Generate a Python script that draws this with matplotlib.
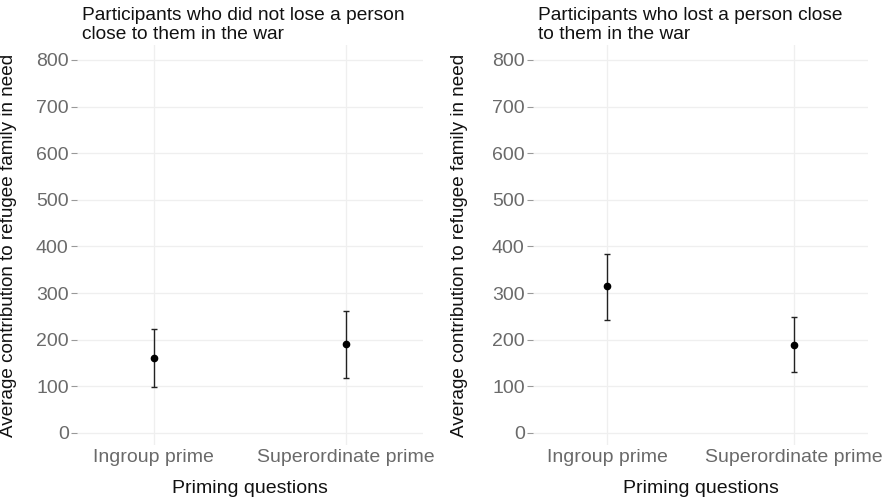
import matplotlib
matplotlib.use("Agg")
import matplotlib.pyplot as plt

categories = ["Ingroup prime", "Superordinate prime"]
titles = ["Participants who did not lose a person\nclose to them in the war",
          "Participants who lost a person close\nto them in the war"]
means_no_loss = [160, 190]
lower_no_loss = [98, 117]
upper_no_loss = [223, 262]
means_loss = [314, 189]
lower_loss = [243, 131]
upper_loss = [383, 249]
yticks = [0, 100, 200, 300, 400, 500, 600, 700, 800]

plt.rcParams['font.family'] = ['Liberation Sans', 'DejaVu Sans']

fig = plt.figure(figsize=(8.86, 4.99), dpi=100)
axes_pos = [[77/886, 54/499, 346/886, 400/499],
            [533/886, 54/499, 335/886, 400/499]]
ylabel_x = [17/886, 468/886]
series = [(means_no_loss, lower_no_loss, upper_no_loss),
          (means_loss, lower_loss, upper_loss)]

for i in range(2):
    ax = fig.add_axes(axes_pos[i])
    m, lo, hi = series[i]
    x = list(range(1, len(categories) + 1))
    yerr = [[mi - l for mi, l in zip(m, lo)], [h - mi for mi, h in zip(m, hi)]]
    ax.errorbar(x, m, yerr=yerr, fmt='o', color='black', ecolor='#222222',
                elinewidth=1.0, capsize=2.5, capthick=1.0, markersize=4.5, zorder=3)
    ax.set_xlim(0.6, 2.4)
    ax.set_ylim(-26, 832)
    ax.set_xticks(x)
    ax.set_xticklabels(categories)
    ax.set_yticks(yticks)
    ax.grid(True, color='#efefef', linewidth=0.9)
    ax.set_axisbelow(True)
    for s in ax.spines.values():
        s.set_visible(False)
    ax.tick_params(axis='y', length=4, width=0.8, color='#999999', labelcolor='#6a6a6a',
                   labelsize=14, pad=2)
    ax.tick_params(axis='x', length=0, labelcolor='#6a6a6a', labelsize=14, pad=3)
    ax.set_xlabel("Priming questions", fontsize=14, color='#111111', labelpad=10)
    ax.set_ylabel("Average contribution to refugee family in need", fontsize=13.6,
                  color='#111111')
    ax.yaxis.set_label_coords(-(axes_pos[i][0] - ylabel_x[i]) / axes_pos[i][2], 0.5)
    ax.set_title(titles[i], loc='left', fontsize=13.8, color='#111111',
                 linespacing=1.15, pad=4, x=0.015)

fig.savefig("out.png", dpi=100, facecolor='white')
